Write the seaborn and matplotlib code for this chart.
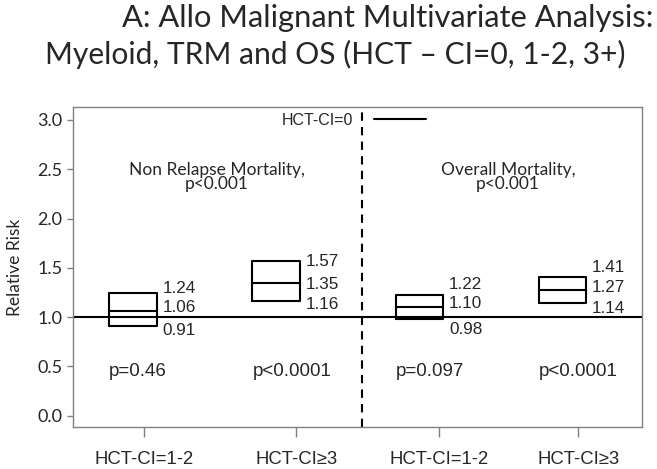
import numpy as np
import pandas as pd
import seaborn as sns
from matplotlib import pyplot as plt

# values
groups = ['NRM 1-2', 'NRM 3+', 'OM 1-2', 'OM 3+']
tick_labels = ['HCT-CI=1-2', 'HCT-CI≥3', 'HCT-CI=1-2', 'HCT-CI≥3']
rr_low = [0.91, 1.16, 0.98, 1.14]
rr_mid = [1.06, 1.35, 1.10, 1.27]
rr_high = [1.24, 1.57, 1.22, 1.41]
p_values = ['p=0.46', 'p<0.0001', 'p=0.097', 'p<0.0001']
panel_titles = ['Non Relapse Mortality,\np<0.001', 'Overall Mortality,\np<0.001']

# label nudges in pixels (top, mid, low) so the numbers don't collide
nudges = [(5, 4, -5), (-1, -2, -3), (11, 4, -10), (9, 3, -5)]
tick_shift = [0.08, 0.14, 0.14, 0.11]

sns.set_theme(style='white')
plt.rcParams['font.family'] = ['Liberation Sans', 'DejaVu Sans']
calibri = ['Lato', 'DejaVu Sans']

# 5-point trick: quartiles of [lo, lo, mid, hi, hi] are exactly lo / mid / hi
rows = []
for g, lo, mid, hi in zip(groups, rr_low, rr_mid, rr_high):
    for v in [lo, lo, mid, hi, hi]:
        rows.append({'group': g, 'rr': v})
df = pd.DataFrame(rows)

fig = plt.figure(figsize=(6.57, 4.69), dpi=100)
ax = fig.add_axes([0.111, 0.0896, 0.866, 0.682])

ax.axhline(1.0, color='black', lw=1.5, label='HCT-CI=0', zorder=1)
sns.boxplot(data=df, x='group', y='rr', order=groups, width=0.33, whis=0,
            showfliers=False, showcaps=False, fill=False, color='black',
            linecolor='black', linewidth=1.5, ax=ax)
ax.axvline(1.598, color='black', lw=1.5, ls=(0, (4, 3)))

for i in range(len(groups)):
    x_txt = i + 0.165 + 6 / 143.3
    for val, dy in zip([rr_high[i], rr_mid[i], rr_low[i]], nudges[i]):
        ax.annotate('%.2f' % val, (x_txt, val), xytext=(0, dy * 0.72),
                    textcoords='offset points', ha='left', va='center', fontsize=12.3)
    ax.text(i - 0.165, 0.45, p_values[i], ha='left', va='center', fontsize=13.5)

ax.text(0.586, 2.42, panel_titles[0], ha='center', va='center', fontsize=12.5,
        family=calibri, linespacing=0.85)
ax.text(2.62, 2.42, panel_titles[1], ha='center', va='center', fontsize=12.5,
        family=calibri, linespacing=0.85)

ax.set_xlim(-0.419, 3.555)
ax.set_ylim(-0.115, 3.13)
ax.set_yticks(np.arange(0, 3.01, 0.5))
ax.set_yticklabels(['%.1f' % t for t in np.arange(0, 3.01, 0.5)], family=calibri, fontsize=13)
ax.set_xticks(np.arange(len(groups)) + np.array(tick_shift))
ax.set_xticklabels(tick_labels, fontsize=13.3)
ax.tick_params(axis='y', direction='out', length=4.5, width=1, color='#808080', pad=3, left=True)
ax.tick_params(axis='x', direction='out', length=7, width=1, color='#808080', pad=10, bottom=True)
for s in ax.spines.values():
    s.set_color('#808080')
    s.set_linewidth(1)
ax.set_xlabel('')
ax.set_ylabel('Relative Risk', family=calibri, fontsize=12.5, labelpad=10)

ax.legend(loc='center', bbox_to_anchor=(0.494, 0.959), frameon=False, markerfirst=False,
          fontsize=11.5, handlelength=3.3, handletextpad=1.3, borderpad=0)

fig.text(122 / 657, 1 - 27 / 469, 'A: Allo Malignant Multivariate Analysis:', family=calibri,
         fontsize=22.2, ha='left', va='baseline')
fig.text(45 / 657, 1 - 64 / 469, 'Myeloid, TRM and OS (HCT – CI=0, 1-2, 3+)', family=calibri,
         fontsize=21.6, ha='left', va='baseline')

plt.savefig('out.png', dpi=100)
